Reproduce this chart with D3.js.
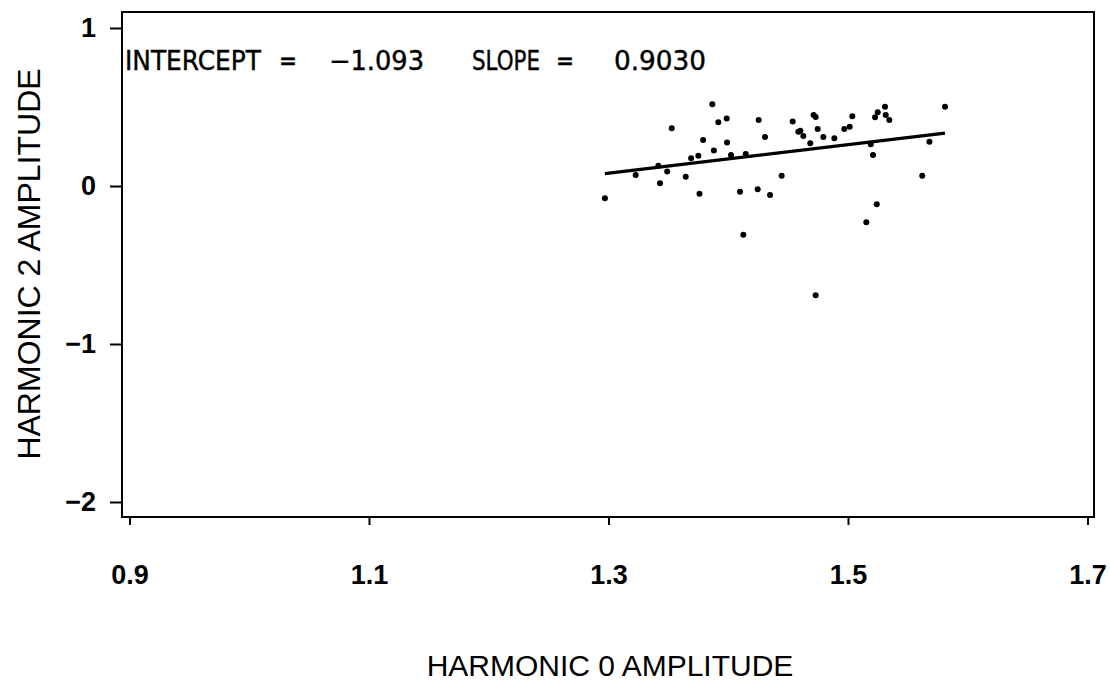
<!DOCTYPE html>
<html>
<head>
<meta charset="utf-8">
<script src="https://cdn.jsdelivr.net/npm/d3@7"></script>
<style>
  html, body { margin: 0; padding: 0; background: #fff; }
  svg { display: block; }
  .tick text { font-family: "Liberation Sans", Arial, sans-serif; font-weight: bold; }
</style>
</head>
<body>
<svg id="chart"></svg>
<script>
// data
const harm0 = [1.297, 1.3227, 1.343, 1.3416, 1.349, 1.3528, 1.3645, 1.369, 1.375, 1.376,
  1.379, 1.3867, 1.388, 1.3917, 1.3987, 1.399, 1.4023, 1.4146, 1.4098, 1.4254,
  1.4246, 1.4307, 1.4349, 1.4446, 1.4538, 1.4585, 1.4602, 1.4627, 1.4685, 1.4713,
  1.473, 1.4747, 1.4794, 1.4886, 1.4969, 1.5014, 1.5036, 1.519, 1.5209, 1.5226,
  1.5248, 1.5309, 1.5315, 1.5345, 1.524, 1.562, 1.568, 1.581, 1.4126, 1.5153, 1.473];
const harm2 = [-0.078, 0.070, 0.017, 0.128, 0.091, 0.365, 0.059, 0.175, 0.192, -0.049,
  0.291, 0.517, 0.224, 0.403, 0.428, 0.276, 0.196, 0.202, -0.036, 0.418,
  -0.021, 0.310, -0.057, 0.065, 0.409, 0.344, 0.350, 0.316, 0.270, 0.449,
  0.437, 0.361, 0.310, 0.302, 0.361, 0.375, 0.441, 0.264, 0.196, 0.435,
  0.466, 0.502, 0.449, 0.418, -0.116, 0.065, 0.280, 0.502, -0.308, -0.230, -0.692];

const xTicks = [0.9, 1.1, 1.3, 1.5, 1.7];
const yTicks = [-2, -1, 0, 1];
const intercept = -1.093;
const slope = 0.9030;

const W = 1110, H = 684;
const box = { left: 122, right: 1094, top: 12, bottom: 517 };

const svg = d3.select('#chart').attr('width', W).attr('height', H);

const x = d3.scaleLinear().domain([0.9, 1.7]).range([129.5, 1087.5]);
const y = d3.scaleLinear().domain([-2, 1]).range([502, 28]);

// frame
svg.append('rect')
    .attr('x', box.left).attr('y', box.top)
    .attr('width', box.right - box.left).attr('height', box.bottom - box.top)
    .attr('fill', 'none').attr('stroke', '#000').attr('stroke-width', 2);

// x axis
const xAxis = svg.append('g')
    .attr('transform', `translate(0,${box.bottom})`)
    .call(d3.axisBottom(x).tickValues(xTicks).tickSize(8).tickPadding(40).tickFormat(d3.format('.1f')));
xAxis.select('.domain').remove();
xAxis.selectAll('line').attr('stroke-width', 2);
xAxis.selectAll('text').attr('font-size', 27).attr('fill', '#000');

// y axis
const yAxis = svg.append('g')
    .attr('transform', `translate(${box.left},0)`)
    .call(d3.axisLeft(y).tickValues(yTicks).tickSize(12).tickPadding(14).tickFormat(d => d < 0 ? '\u2212' + Math.abs(d) : d));
yAxis.select('.domain').remove();
yAxis.selectAll('line').attr('stroke-width', 2);
yAxis.selectAll('text').attr('font-size', 27).attr('fill', '#000');

// axis titles
svg.append('text')
    .attr('x', 610).attr('y', 676)
    .attr('text-anchor', 'middle')
    .attr('font-family', '"Liberation Sans", Arial, sans-serif')
    .attr('font-size', 30)
    .text('HARMONIC 0 AMPLITUDE');

svg.append('text')
    .attr('transform', 'translate(40,264) rotate(-90)')
    .attr('text-anchor', 'middle')
    .attr('font-family', '"Liberation Sans", Arial, sans-serif')
    .attr('font-size', 32)
    .text('HARMONIC 2 AMPLITUDE');

// annotation
const note = [
  { t: 'INTERCEPT', x0: 125, x1: 261 },
  { t: '=', x0: 279, x1: 297 },
  { t: '\u22121.093', x0: 329, x1: 424 },
  { t: 'SLOPE', x0: 472, x1: 540 },
  { t: '=', x0: 556, x1: 574 },
  { t: '0.9030', x0: 614, x1: 706 }
];
svg.append('g').selectAll('text')
    .data(note)
    .enter()
    .append('text')
    .attr('x', d => d.x0)
    .attr('y', 70)
    .attr('textLength', d => d.x1 - d.x0)
    .attr('lengthAdjust', 'spacingAndGlyphs')
    .attr('font-family', '"DejaVu Sans Condensed", "Liberation Sans Narrow", "DejaVu Sans", sans-serif')
    .attr('font-size', 27)
    .attr('stroke', '#000')
    .attr('stroke-width', 0.4)
    .text(d => d.t);

// fit line
const xMin = d3.min(harm0), xMax = d3.max(harm0);
svg.append('line')
    .attr('x1', x(xMin)).attr('y1', y(intercept + slope * xMin))
    .attr('x2', x(xMax)).attr('y2', y(intercept + slope * xMax))
    .attr('stroke', '#000').attr('stroke-width', 3.2);

// points
svg.append('g').selectAll('circle')
    .data(harm0.map((v, i) => [v, harm2[i]]))
    .enter()
    .append('circle')
    .attr('cx', d => x(d[0]))
    .attr('cy', d => y(d[1]))
    .attr('r', 3)
    .attr('fill', '#000');
</script>
</body>
</html>
